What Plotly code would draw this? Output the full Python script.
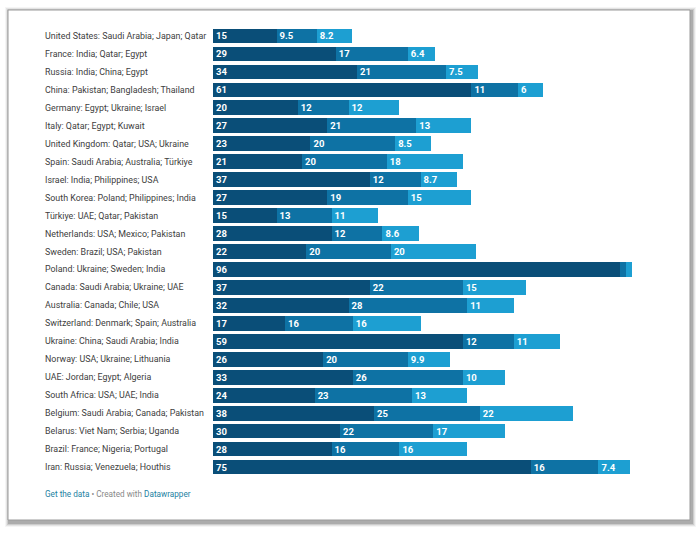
import plotly.graph_objects as go

categories = [
    "United States: Saudi Arabia; Japan; Qatar",
    "France: India; Qatar; Egypt",
    "Russia: India; China; Egypt",
    "China: Pakistan; Bangladesh; Thailand",
    "Germany: Egypt; Ukraine; Israel",
    "Italy: Qatar; Egypt; Kuwait",
    "United Kingdom: Qatar; USA; Ukraine",
    "Spain: Saudi Arabia; Australia; Türkiye",
    "Israel: India; Philippines; USA",
    "South Korea: Poland; Philippines; India",
    "Türkiye: UAE; Qatar; Pakistan",
    "Netherlands: USA; Mexico; Pakistan",
    "Sweden: Brazil; USA; Pakistan",
    "Poland: Ukraine; Sweden; India",
    "Canada: Saudi Arabia; Ukraine; UAE",
    "Australia: Canada; Chile; USA",
    "Switzerland: Denmark; Spain; Australia",
    "Ukraine: China; Saudi Arabia; India",
    "Norway: USA; Ukraine; Lithuania",
    "UAE: Jordan; Egypt; Algeria",
    "South Africa: USA; UAE; India",
    "Belgium: Saudi Arabia; Canada; Pakistan",
    "Belarus: Viet Nam; Serbia; Uganda",
    "Brazil: France; Nigeria; Portugal",
    "Iran: Russia; Venezuela; Houthis",
]
first = [15, 29, 34, 61, 20, 27, 23, 21, 37, 27, 15, 28, 22, 96, 37, 32, 17, 59, 26, 33, 24, 38, 30, 28, 75]
second = [9.5, 17, 21, 11, 12, 21, 20, 20, 12, 19, 13, 12, 20, 1.5, 22, 28, 16, 12, 20, 26, 23, 25, 22, 16, 16]
third = [8.2, 6.4, 7.5, 6, 12, 13, 8.5, 18, 8.7, 15, 11, 8.6, 20, 1.3, 15, 11, 16, 11, 9.9, 10, 13, 22, 17, 16, 7.4]
labels_first = ["15", "29", "34", "61", "20", "27", "23", "21", "37", "27", "15", "28", "22", "96", "37", "32", "17", "59", "26", "33", "24", "38", "30", "28", "75"]
labels_second = ["9.5", "17", "21", "11", "12", "21", "20", "20", "12", "19", "13", "12", "20", "", "22", "28", "16", "12", "20", "26", "23", "25", "22", "16", "16"]
labels_third = ["8.2", "6.4", "7.5", "6", "12", "13", "8.5", "18", "8.7", "15", "11", "8.6", "20", "", "15", "11", "16", "11", "9.9", "10", "13", "22", "17", "16", "7.4"]

colors = ["#0a4e78", "#0e72a4", "#1d9fd2"]

W, H = 700, 533
L, R, T, B = 213, 47, 27, 57
pw, ph = W - L - R, H - T - B
xmax = pw / 4.236

def px(x):
    return (x - L) / pw

def py(y):
    return (H - B - y) / ph

fig = go.Figure()
for vals, labs, col in [(first, labels_first, colors[0]), (second, labels_second, colors[1]), (third, labels_third, colors[2])]:
    fig.add_trace(go.Bar(
        y=categories, x=vals, orientation="h", marker=dict(color=col, line=dict(width=0)),
        text=labs, texttemplate="%{text}", textposition="inside", insidetextanchor="start",
        textangle=0,
        textfont=dict(family="Roboto", size=9.5, color="white", weight="bold"),
        hoverinfo="skip", cliponaxis=False,
    ))

shapes = []
# shadow
for i, op in enumerate([0.06, 0.1, 0.16, 0.26]):
    d = 4 - i
    shapes.append(dict(type="rect", xref="paper", yref="paper", layer="below",
                       x0=px(8 - d + 1), x1=px(692 + d), y0=py(523 + d), y1=py(10 - d + 1),
                       fillcolor="rgba(80,80,80,%s)" % op, line=dict(width=0)))
shapes.append(dict(type="rect", xref="paper", yref="paper", layer="below",
                   x0=px(8), x1=px(690), y0=py(520), y1=py(10),
                   fillcolor="white", line=dict(color="#9a9a9a", width=1)))

annotations = []
for i, c in enumerate(categories):
    annotations.append(dict(x=px(43), y=c, xref="paper", yref="y", text=c, showarrow=False,
                            xanchor="left", yanchor="middle",
                            font=dict(family="Roboto", size=8.9, color="#404040")))
annotations.append(dict(x=px(43), y=py(494), xref="paper", yref="paper", showarrow=False,
                        xanchor="left", yanchor="middle",
                        text="<span style='color:#1d81a2'>Get the data</span>"
                             "<span style='color:#888888'> • Created with </span>"
                             "<span style='color:#1d81a2'>Datawrapper</span>",
                        font=dict(family="Roboto", size=8.2)))

fig.update_layout(
    width=W, height=H, barmode="stack", bargap=0.18,
    margin=dict(l=L, r=R, t=T, b=B, pad=0),
    paper_bgcolor="white", plot_bgcolor="rgba(0,0,0,0)",
    showlegend=False, shapes=shapes, annotations=annotations,
    uniformtext=dict(minsize=9, mode="show"),
    xaxis=dict(range=[0, xmax], visible=False, fixedrange=True),
    yaxis=dict(autorange="reversed", showticklabels=False, showgrid=False, zeroline=False,
               showline=False, ticks="", fixedrange=True),
)
fig.write_html("out.html", config={"displayModeBar": False},
               post_script="document.body.style.margin='0';document.body.style.padding='0';")
